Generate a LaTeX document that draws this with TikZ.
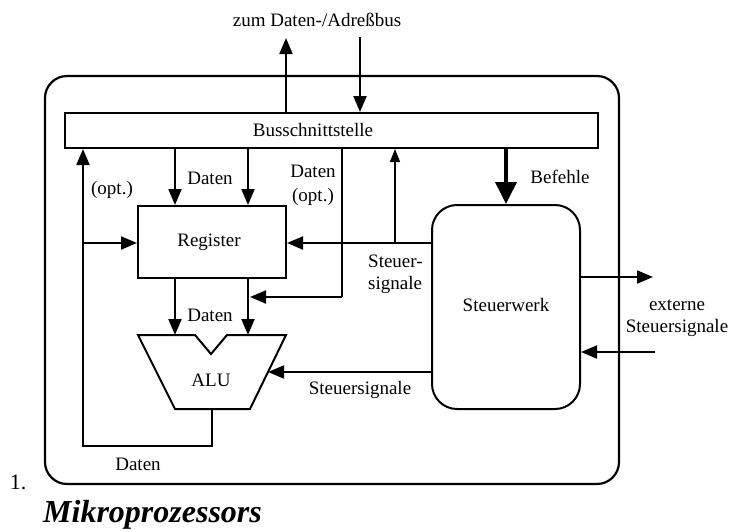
\documentclass[tikz,border=0pt]{standalone}
\usepackage{fontspec}
\setmainfont{Liberation Serif}
\usetikzlibrary{arrows.meta,calc}
\tikzset{
  lbl/.style={inner sep=0pt, font=\fontsize{19}{23}\selectfont},
  wire/.style={line width=2pt},
  arr/.style={wire, -{Triangle[length=16pt,width=13pt]}},
  thinarr/.style={line width=1.2pt, -{Triangle[length=13pt,width=10pt]}},
  bigarr/.style={line width=3.8pt, -{Triangle[length=22pt,width=21pt]}},
  boxshape/.style={draw, line width=2pt, inner sep=0pt}
}
\begin{document}
\begin{tikzpicture}[x=1pt,y=-1pt]
\useasboundingbox (0,0) rectangle (731,531);
% outer frame
\draw[line width=2.2pt, rounded corners=22pt] (45,76) rectangle (619,484);
% boxes
\node[boxshape, minimum width=533pt, minimum height=35pt] (bus) at (331.5,130.5) {};
\node[lbl] (buslbl) at (313,130) {Busschnittstelle};
\node[boxshape, minimum width=148pt, minimum height=72pt] (reg) at (212,242) {};
\node[lbl] (reglbl) at (209,242) {Register};
\node[boxshape, rounded corners=25pt, minimum width=148pt, minimum height=204pt] (sw) at (506,307) {};
\node[lbl] (swlbl) at (506,305) {Steuerwerk};
% ALU
\coordinate (aluTL) at (138,335);
\coordinate (aluTR) at (286,335);
\coordinate (aluBL) at (175,409);
\coordinate (aluBR) at (250,409);
\draw[line width=2pt, line join=miter] (aluTL) -- (195,335) -- (211,354) -- (227,335) -- (aluTR) -- (aluBR) -- (aluBL) -- cycle;
\node[lbl] (alulbl) at (211,380) {ALU};
% coordinates for connectors
\coordinate (busOut) at (286,38);
\coordinate (busIn) at (360,37);
\coordinate (aluOut) at (212,409);
\coordinate (loopA) at (212,446);
\coordinate (loopB) at (83,446);
\coordinate (loopBr) at (83,243);
\coordinate (aluIn1) at (175,335);
\coordinate (aluIn2) at (248,335);
\coordinate (optJ) at (342,297);
\coordinate (optT) at (250,297);
\coordinate (ctlUp) at (395,243);
\coordinate (aluSide) at (268,372);
\coordinate (extOut) at (653,277);
\coordinate (extIn) at (655,352);
% bus to system bus
\draw[arr] (bus.north -| busOut) -- (busOut);
\draw[arr] (busIn) -- (bus.north -| busIn);
% ALU result loop
\draw[wire] (aluOut) -- (loopA) -- (loopB) -- (loopBr);
\draw[arr] (loopBr) -- (bus.south -| loopBr);
\draw[arr] (loopBr) -- (reg.west |- loopBr);
% data from bus to register
\draw[arr] (bus.south -| aluIn1) -- (reg.north -| aluIn1);
\draw[arr] (bus.south -| aluIn2) -- (reg.north -| aluIn2);
% optional data from bus to ALU
\draw[wire] (bus.south -| optJ) -- (optJ);
\draw[arr] (optJ) -- (optT);
% register to ALU
\draw[arr] (reg.south -| aluIn1) -- (aluIn1);
\draw[arr] (reg.south -| aluIn2) -- (aluIn2);
% control signals
\draw[arr] (sw.west |- loopBr) -- (reg.east |- loopBr);
\draw[thinarr] (ctlUp) -- (bus.south -| ctlUp);
\draw[bigarr] (bus.south -| sw.north) -- (sw.north);
\draw[arr] (sw.west |- aluSide) -- (aluSide);
\draw[arr] (sw.east |- extOut) -- (extOut);
\draw[arr] (extIn) -- (sw.east |- extIn);
% labels
\node[lbl] (title) at (317,20) {zum Daten-/Adreßbus};
\node[lbl] (opt1) at (112,190) {(opt.)};
\node[lbl] (daten1) at (210,178) {Daten};
\node[lbl, align=center, font=\fontsize{19}{24}\selectfont] (daten2) at (313,185) {Daten\\(opt.)};
\node[lbl] (befehle) at (560,177) {Befehle};
\node[lbl, anchor=west, align=left, font=\fontsize{19}{22}\selectfont] (ss1) at (368,274) {Steuer-\\signale};
\node[lbl] (daten3) at (210,315) {Daten};
\node[lbl] (ss2) at (360,390) {Steuersignale};
\node[lbl, align=center, font=\fontsize{19}{22}\selectfont] (ext) at (677,318) {externe\\Steuersignale};
\node[lbl] (daten4) at (138,464) {Daten};
\node[inner sep=0pt, font=\fontsize{22}{24}\selectfont] (num) at (18,482) {1.};
\node[inner sep=0pt, anchor=west, font=\fontsize{32}{36}\selectfont\bfseries\itshape] (cap) at (43,515) {Mikroprozessors};
\end{tikzpicture}
\end{document}
